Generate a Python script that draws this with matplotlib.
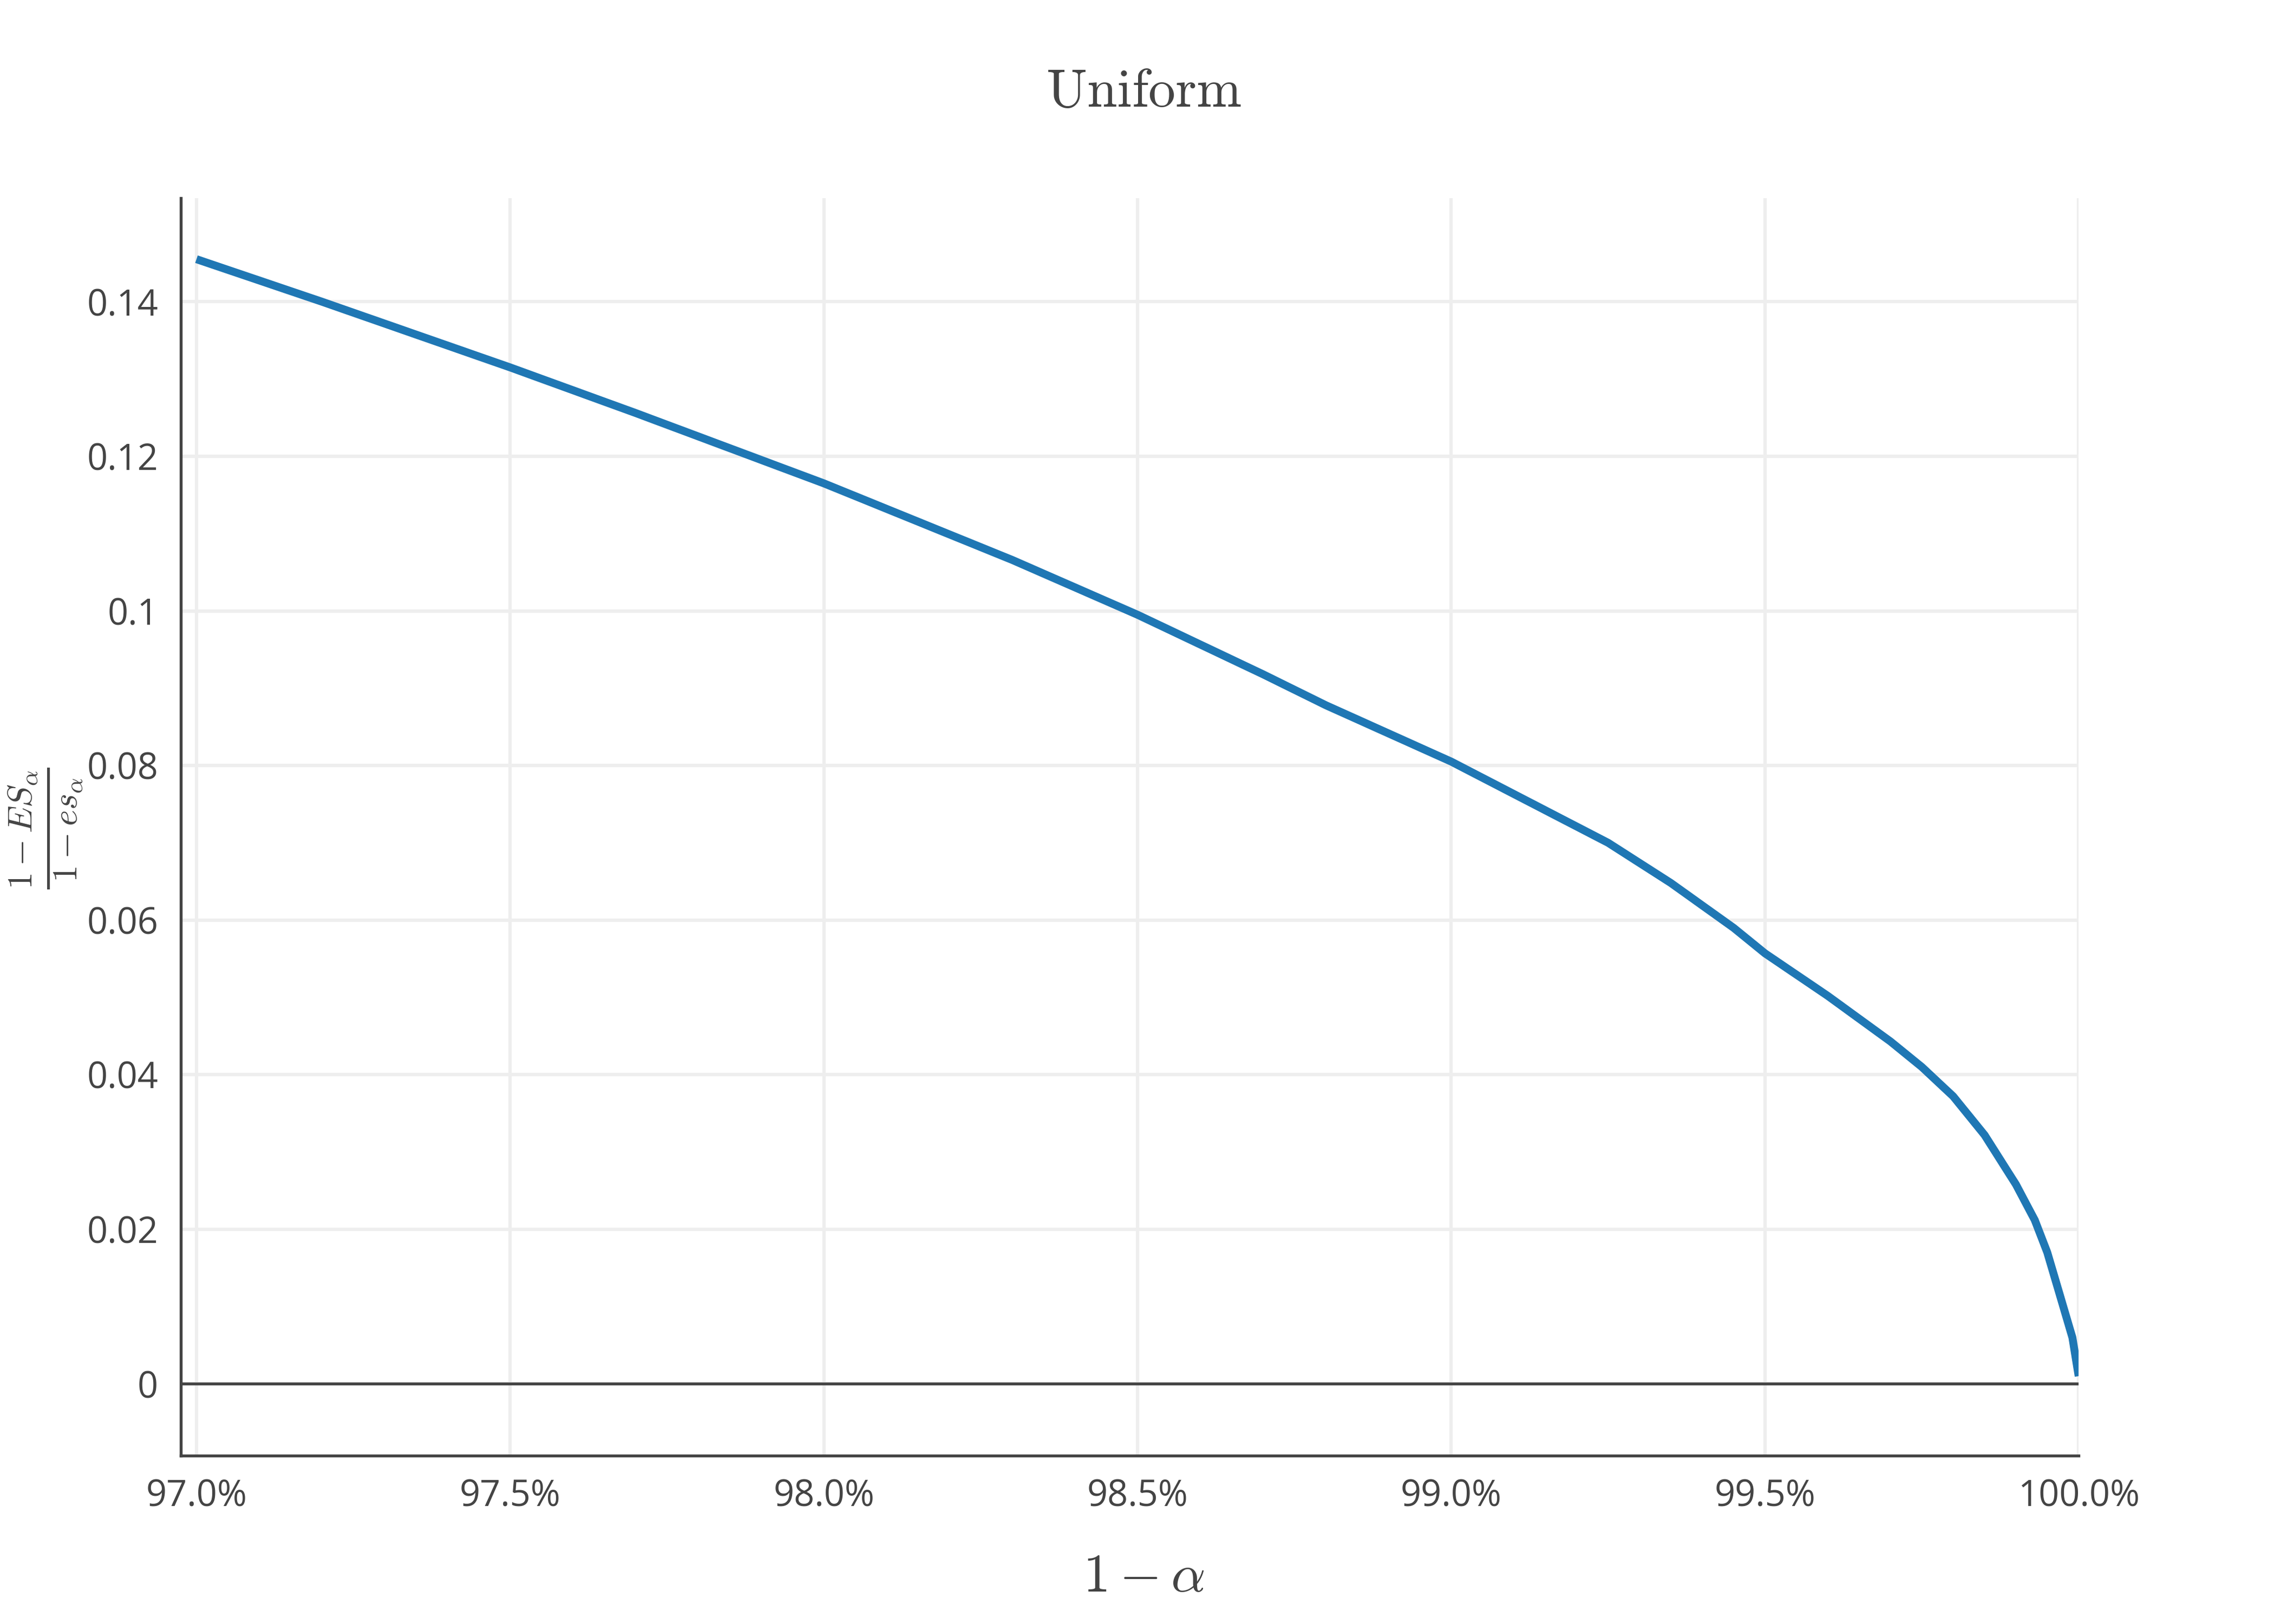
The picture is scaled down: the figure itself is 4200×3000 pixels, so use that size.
import numpy as np
import matplotlib
matplotlib.use("Agg")
import matplotlib.pyplot as plt
from matplotlib.ticker import FuncFormatter

# values
conf_level = [0.9700, 0.9720, 0.9750, 0.9770, 0.9800, 0.9830, 0.9850, 0.9870,
              0.9880, 0.9900, 0.9910, 0.9925, 0.9935, 0.9945, 0.9950, 0.9960,
              0.9970, 0.9975, 0.9980, 0.9985, 0.9990, 0.9993, 0.9995, 0.9997,
              0.9999, 1.0000]
es_ratio = [0.1455, 0.1400, 0.1315, 0.1256, 0.1165, 0.1066, 0.0995, 0.0918,
            0.0878, 0.0805, 0.0763, 0.0700, 0.0648, 0.0590, 0.0557, 0.0502,
            0.0443, 0.0410, 0.0372, 0.0322, 0.0258, 0.0212, 0.0170, 0.0115,
            0.0060, 0.0010]
x_ticks = [0.970, 0.975, 0.980, 0.985, 0.990, 0.995, 1.000]
y_ticks = [0, 0.02, 0.04, 0.06, 0.08, 0.1, 0.12, 0.14]

plt.rcParams.update({
    'font.family': 'Open Sans',
    'mathtext.fontset': 'cm',
})
text_col = '#444444'

fig = plt.figure(figsize=(14, 10), dpi=300)
ax = fig.add_axes([0.0795, 0.1036, 0.8391 - 0.0045, 0.7744])

ax.plot(conf_level, es_ratio, color='#1f77b4', linewidth=3.5, zorder=4,
        solid_capstyle='butt')
ax.axhline(0, color=text_col, linewidth=1.3, zorder=3)

ax.set_xlim(0.96975, 1.0)
ax.set_ylim(-0.0093, 0.1534)
ax.set_xticks(x_ticks)
ax.set_yticks(y_ticks)
ax.xaxis.set_major_formatter(FuncFormatter(lambda v, _: f'{v*100:.1f}%'))
ax.yaxis.set_major_formatter(FuncFormatter(lambda v, _: f'{v:g}'))
ax.tick_params(length=0, labelsize=16, labelcolor=text_col, pad=10)
ax.grid(True, color='#eeeeee', linewidth=1.5, zorder=0)

for side in ['top', 'right']:
    ax.spines[side].set_visible(False)
for side in ['left', 'bottom']:
    ax.spines[side].set_color(text_col)
    ax.spines[side].set_linewidth(1.3)

fig.text(0.503, 0.943, r'$\mathrm{Uniform}$', ha='center', va='center',
         fontsize=24, color=text_col)
fig.text(0.503, 0.012, r'$1-\alpha$', ha='center', va='bottom',
         fontsize=24, color=text_col)
fig.text(0.020, 0.49, r'$\frac{1-ES_\alpha}{1-es_\alpha}$', ha='center',
         va='center', rotation=90, fontsize=22, color=text_col)

fig.savefig('out.png', dpi=300)
